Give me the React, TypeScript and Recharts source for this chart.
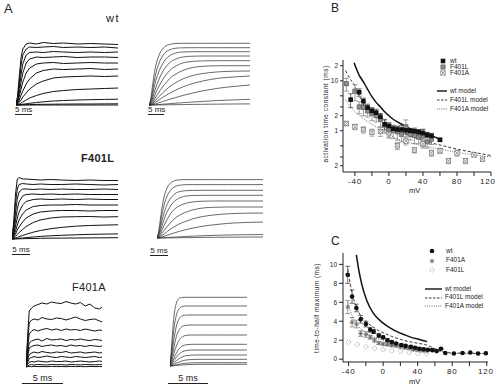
import React from "react";
import {
  ComposedChart,
  LineChart,
  Line,
  Scatter,
  ErrorBar,
  XAxis,
  YAxis,
} from "recharts";

const FONT = "'Liberation Sans', Arial, Helvetica, sans-serif";

// ---- panel A: time bases (ms) ----
const tRec = [0, 0.5, 1, 1.5, 2, 3, 4, 6, 8, 11, 14, 18, 22, 26, 30];
const tModel = [0, 0.5, 1, 1.5, 2, 3, 4, 5, 6, 8, 10, 13, 16, 20, 25, 30];
const tF401aRec = [0, 0.2, 0.4, 0.7, 1, 1.5, 2, 2.6, 3.2, 3.8, 4.4, 5, 5.6, 6.2, 6.8, 7.4, 8, 8.6, 9.2, 9.5];
const tF401aModel = [0, 0.2, 0.4, 0.6, 0.8, 1, 1.3, 1.6, 2, 2.5, 3, 4, 5, 6.5, 8, 9.6];

// currents, arbitrary units
const wtRec = [
  [0, 10, 30, 48, 56, 61, 62, 61, 62.5, 61.5, 62, 61, 61.5, 61, 60.5],
  [0, 8, 24, 40, 50, 56, 58, 57.5, 58, 58.5, 57.5, 58, 57.5, 58, 57],
  [0, 6, 18, 31, 41, 50, 52.5, 53, 52.5, 53.5, 53, 52.5, 53, 52.5, 53],
  [0, 4, 13, 23, 32, 42, 46, 48, 47.5, 48, 48.5, 47.5, 48, 48, 47.5],
  [0, 3, 9, 16, 23, 32, 37, 41, 42, 42.5, 41.5, 42, 42.5, 42, 42],
  [0, 2, 5, 10, 14, 21, 26, 32, 34.5, 36, 35.5, 36, 36.5, 35.5, 36],
  [0, 1, 3, 5, 8, 12, 16, 21, 24, 27, 28, 28.5, 29, 28.5, 29],
  [0, 0.5, 1, 2, 3, 5, 7, 9.5, 11.5, 13.5, 14.5, 15.5, 16, 16.5, 17],
  [0, 0, 0.3, 0.5, 0.8, 1.2, 1.7, 2.5, 3.2, 4, 4.5, 5, 5.3, 5.6, 5.8],
  [0, 0, 0, 0.1, 0.2, 0.3, 0.4, 0.6, 0.7, 0.8, 0.9, 1, 1, 1.1, 1.2],
  [0, 0, 0, 0, 0, 0, 0, 0, 0, 0, 0, 0, 0, 0, 0],
];

const wtModel = [
  [0, 6, 18, 30, 39, 50, 56, 59, 60.5, 61.5, 61.7, 61.7, 61.7, 61.7, 61.7, 61.7],
  [0, 4, 13, 23, 31, 42, 49, 53, 55, 56.8, 57.2, 57.3, 57.3, 57.3, 57.3, 57.3],
  [0, 3, 9, 17, 24, 34, 41, 46, 49, 52, 53, 53.3, 53.3, 53.3, 53.3, 53.3],
  [0, 2, 6, 12, 17, 26, 33, 38, 42, 46, 48, 48.8, 49, 49, 49, 49],
  [0, 1, 4, 8, 12, 19, 25, 30, 34, 39, 42, 43.6, 44.1, 44.3, 44.3, 44.3],
  [0, 0.5, 2.5, 5, 8, 13, 18, 22, 26, 31, 34.5, 37.5, 38.7, 39.2, 39.3, 39.3],
  [0, 0.3, 1.5, 3, 5, 8.5, 12, 15, 18, 22.5, 26, 29.5, 31.5, 33, 33.8, 34],
  [0, 0.2, 0.8, 1.8, 3, 5, 7.5, 9.5, 11.5, 15, 18, 21.5, 24, 26.5, 28, 29],
  [0, 0.1, 0.4, 0.8, 1.3, 2.3, 3.4, 4.5, 5.6, 7.5, 9.5, 12, 14.2, 16.5, 18.5, 20],
  [0, 0, 0.1, 0.2, 0.3, 0.5, 0.8, 1, 1.3, 1.8, 2.3, 3, 3.6, 4.4, 5.1, 5.7],
  [0, 0, 0, 0, 0.05, 0.1, 0.15, 0.2, 0.25, 0.35, 0.45, 0.6, 0.7, 0.85, 1, 1.1],
];

const f401lRec = [
  [0, 18, 45, 60, 61.5, 60, 60, 59.5, 59, 59.5, 59, 58.5, 59, 58.5, 58.5],
  [0, 14, 36, 50, 54.5, 55.5, 55, 54.5, 55, 54.5, 54.5, 55, 54.5, 54, 54.5],
  [0, 10, 27, 40, 47, 50, 50, 49.5, 50, 49.5, 50, 49.5, 49.5, 50, 49.5],
  [0, 7, 19, 30, 37, 43, 44.5, 45, 44.5, 45, 44.5, 45, 44.5, 44.5, 44.5],
  [0, 5, 13, 21, 27, 34, 37.5, 39.5, 40, 39.5, 40, 39.5, 40, 39.5, 39.5],
  [0, 3, 8, 14, 19, 25, 29, 32.5, 33.5, 34, 34, 34.5, 34, 34, 34],
  [0, 2, 5, 9, 12, 17, 21, 25, 27, 28, 28.5, 28.5, 28, 28.5, 28.5],
  [0, 1, 2.5, 4.5, 6.5, 9.5, 12.5, 16.5, 19, 21, 22, 22.3, 22.5, 22, 22.3],
  [0, 0.4, 1, 1.6, 2.3, 3.5, 4.7, 6.8, 8.5, 10.3, 11.6, 12.8, 13.5, 13.9, 14.2],
  [0, 0.1, 0.3, 0.5, 0.7, 1, 1.4, 2, 2.6, 3.2, 3.7, 4.2, 4.6, 4.9, 5.1],
  [0, 0, 0.1, 0.1, 0.2, 0.3, 0.4, 0.5, 0.7, 0.8, 0.9, 1, 1.1, 1.2, 1.3],
];

const f401lModel = [
  [0, 7, 20, 32, 41, 51, 55.5, 57.3, 58, 58.4, 58.4, 58.4, 58.4, 58.4, 58.4, 58.4],
  [0, 5, 15, 25, 33, 43, 48.5, 51.3, 52.5, 53.3, 53.4, 53.4, 53.4, 53.4, 53.4, 53.4],
  [0, 3.5, 10.5, 18.5, 25, 34.5, 40.5, 44, 46, 47.3, 47.6, 47.7, 47.7, 47.7, 47.7, 47.7],
  [0, 2.5, 7, 13, 18.5, 27, 33, 37, 39.5, 41.8, 42.5, 42.7, 42.7, 42.7, 42.7, 42.7],
  [0, 1.5, 4.5, 8.5, 12.5, 19.5, 25, 29, 31.5, 34.5, 36, 36.8, 37, 37, 37, 37],
  [0, 0.8, 2.5, 5, 7.5, 12, 16, 19.5, 22, 25.5, 28, 30, 30.7, 31, 31, 31],
  [0, 0.4, 1.3, 2.6, 4, 6.8, 9.3, 11.5, 13.5, 16.5, 19, 21.5, 23, 24.2, 24.8, 25],
  [0, 0.2, 0.6, 1.1, 1.7, 2.9, 4.1, 5.2, 6.3, 8.2, 9.8, 11.8, 13.2, 14.6, 15.5, 16],
  [0, 0, 0.1, 0.2, 0.3, 0.5, 0.7, 0.9, 1.1, 1.5, 1.8, 2.3, 2.6, 3, 3.3, 3.4],
  [0, 0, 0, 0, 0.05, 0.1, 0.15, 0.2, 0.25, 0.35, 0.45, 0.6, 0.7, 0.8, 0.9, 1],
];

const f401aRec = [
  [0, 30, 56, 59, 61, 62.5, 64, 63, 65, 64, 63.5, 65.5, 64, 63, 64.5, 61, 63, 59, 58, 60],
  [0, 24, 44, 47, 48, 47, 49.5, 48, 47.5, 49, 48.5, 47, 48.5, 50, 48, 46.5, 47.5, 48, 46, 45],
  [0, 18, 33, 36, 37.5, 36, 37.5, 38.5, 37, 38, 36.5, 38, 37, 37.5, 36.5, 38, 37, 36, 37, 36.5],
  [0, 13, 24, 26, 27, 28, 26, 28.5, 27, 27.5, 28, 26.5, 27.5, 27, 28, 27, 26.5, 27.5, 27, 26.5],
  [0, 10, 19, 20.5, 21.5, 22, 20.5, 21.5, 22, 21, 21.5, 20.5, 22, 21, 21.5, 20.5, 21.5, 21, 20.5, 21],
  [0, 7, 12.5, 14, 15, 14, 15.5, 14.5, 14, 15, 14.5, 15.5, 14, 14.5, 15, 14, 14.5, 15, 14, 14.5],
  [0, 4.5, 8.5, 9.5, 10.5, 9.5, 10, 11, 10, 9.5, 10.5, 10, 9.5, 10.5, 10, 9.5, 10, 10.5, 9.5, 10],
  [0, 2.5, 4.8, 5.5, 5, 6, 5.5, 5, 6, 5.5, 5.5, 6, 5, 5.5, 6, 5.5, 5, 5.5, 6, 5.5],
  [0, 1, 2, 2.5, 2, 2.5, 2.3, 2, 2.6, 2.2, 2.4, 2, 2.5, 2.3, 2.1, 2.5, 2.3, 2.2, 2.4, 2.3],
  [0, 0.4, 0.5, 0.3, 0.6, 0.4, 0.5, 0.3, 0.6, 0.4, 0.5, 0.3, 0.6, 0.4, 0.5, 0.3, 0.6, 0.4, 0.5, 0.4],
];

const f401aModel = [
  [0, 20, 42, 56, 63, 66.5, 68.2, 68.6, 68.7, 68.7, 68.7, 68.7, 68.7, 68.7, 68.7, 68.7],
  [0, 14, 31, 43, 51, 55.5, 58.5, 59.6, 60, 60, 60, 60, 60, 60, 60, 60],
  [0, 10, 22, 32, 40, 45, 48.8, 50.3, 50.9, 51, 51, 51, 51, 51, 51, 51],
  [0, 7, 15, 23, 29.5, 34, 38, 39.8, 40.7, 41, 41, 41, 41, 41, 41, 41],
  [0, 4.5, 10, 15.5, 20, 24, 27.5, 29.5, 30.6, 31, 31, 31, 31, 31, 31, 31],
  [0, 2.8, 6.2, 9.8, 13, 15.8, 18.5, 20.2, 21.2, 21.6, 21.7, 21.7, 21.7, 21.7, 21.7, 21.7],
  [0, 1.8, 4.2, 6.6, 8.8, 10.8, 13, 14.5, 15.4, 15.9, 16, 16, 16, 16, 16, 16],
  [0, 1, 2.4, 3.9, 5.3, 6.6, 8.2, 9.4, 10.3, 10.8, 11, 11, 11, 11, 11, 11],
  [0, 0.5, 1.2, 2, 2.8, 3.5, 4.5, 5.3, 6, 6.4, 6.6, 6.7, 6.7, 6.7, 6.7, 6.7],
  [0, 0.2, 0.5, 0.8, 1.2, 1.5, 2, 2.4, 2.8, 3.1, 3.2, 3.3, 3.3, 3.3, 3.3, 3.3],
  [0, 0.1, 0.2, 0.4, 0.5, 0.7, 0.9, 1.1, 1.3, 1.5, 1.6, 1.7, 1.7, 1.7, 1.7, 1.7],
];

// ---- panel B: activation time constant (ms) vs mV ----
const wtTauMv = [-45, -35, -30, -25, -20, -15, -10, -5, 0, 5, 10, 15, 20, 25, 30, 35, 40, 45, 50, 60];
const wtTau = [4.2, 5.9, 3.9, 2.9, 2.5, 2.3, 1.9, 1.35, 1.25, 1.1, 1.06, 1.06, 1.02, 1.0, 0.98, 0.95, 0.9, 0.83, 0.79, 0.66];
const wtTauErr = [1.3, 1.0, 0.6, 0.5, 0.4, 0.4, 0.3, 0.3, 0.2, 0.15, 0.15, 0.2, 0.15, 0.1, 0.15, 0.1, 0.15, 0.1, 0.1, 0.05];

const f401lTauMv = [-50, -40, -35, -30, -25, -20, -15, -10, -5, 0, 5, 10, 15, 20, 25, 30, 35, 40, 45, 50];
const f401lTau = [8.7, 6.2, 3.0, 2.9, 2.5, 2.2, 2.0, 1.7, 1.3, 1.05, 1.0, 0.95, 0.85, 1.2, 0.85, 0.8, 0.75, 0.78, 0.6, 0.68];
const f401lTauErr = [2.5, 2.2, 0.8, 0.9, 0.6, 0.6, 0.5, 0.5, 0.4, 0.3, 0.3, 0.3, 0.25, 0.45, 0.2, 0.25, 0.2, 0.3, 0.15, 0.15];

const f401aTauMv = [-50, -40, -30, -20, -10, 0, 10, 20, 30, 40, 50, 60, 70, 80, 90, 100, 110];
const f401aTau = [1.4, 1.2, 1.05, 0.93, 0.97, 0.91, 0.5, 0.62, 0.41, 0.55, 0.36, 0.4, 0.25, 0.36, 0.25, 0.33, 0.27];
const f401aTauErr = [0.15, 0.15, 0.15, 0.15, 0.2, 0.2, 0.08, 0.1, 0.05, 0.1, 0.05, 0.05, 0.03, 0.05, 0.03, 0.03, 0.02];

const wtTauModelMv = [-41, -35, -30, -26, -20, -15, -10, -5, 0, 5, 10, 15, 20, 25, 30, 40, 50, 60];
const wtTauModel = [23, 13, 9.5, 7.2, 4.8, 3.7, 3.0, 2.4, 2.0, 1.7, 1.5, 1.35, 1.22, 1.1, 1.03, 0.92, 0.8, 0.67];
const f401lTauModelMv = [-51, -45, -41, -35, -30, -25, -20, -10, 0, 10, 20, 30, 40, 50, 60, 80, 100, 120];
const f401lTauModel = [16, 10.5, 8.4, 5, 3.7, 2.9, 2.3, 1.6, 1.2, 1.0, 0.85, 0.73, 0.64, 0.57, 0.52, 0.43, 0.37, 0.32];
const f401aTauModelMv = [-51, -45, -40, -34, -30, -20, -10, 0, 10, 20, 30, 40, 60, 80, 100, 120];
const f401aTauModel = [4.2, 3.0, 2.4, 2.0, 1.75, 1.35, 1.05, 0.85, 0.68, 0.6, 0.55, 0.5, 0.43, 0.37, 0.33, 0.3];

const tauTicks = [0.2, 0.3, 0.4, 0.5, 0.6, 0.8, 1, 2, 3, 4, 5, 6, 8, 10, 20];
const tauTickText: Record<string, string> = {
  "0.2": "2", "0.4": "4", "0.6": "6", "1": "1", "2": "2", "4": "4", "6": "6", "10": "10", "20": "2",
};

// ---- panel C: time-to-half maximum (ms) vs mV ----
const wtHalfMv = [-41, -36, -31, -26, -20, -15, -11, -5, 0, 5, 10, 15, 21, 26, 32, 37, 42, 47, 52, 57, 62, 67, 72, 82, 92, 101, 110, 119];
const wtHalf = [8.9, 6.6, 5.4, 4.2, 3.7, 3.1, 2.9, 2.5, 2.3, 2.0, 1.8, 1.65, 1.5, 1.4, 1.3, 1.2, 1.1, 1.05, 1.0, 0.95, 0.85, 1.1, 0.65, 0.6, 0.65, 0.7, 0.6, 0.62];
const wtHalfErr = [0.9, 0.7, 0.4, 0.4, 0.3, 0.25, 0.2, 0.2, 0.15, 0.15, 0.1, 0.1, 0.1, 0.1, 0.1, 0.1, 0.1, 0.1, 0.1, 0.05, 0.05, 0.05, 0, 0, 0, 0, 0, 0];

const f401aHalfMv = [-41, -36, -31, -26, -20, -15, -10, -5, 0, 5, 10, 15, 20, 25, 30, 35, 40, 45, 50];
const f401aHalf = [5.5, 3.9, 3.7, 2.7, 2.6, 2.3, 2.0, 1.7, 1.6, 1.55, 1.45, 1.4, 1.3, 1.2, 1.15, 1.0, 0.95, 0.9, 0.85];
const f401aHalfErr = [0.7, 0.5, 0.4, 0.3, 0.3, 0.2, 0.2, 0.15, 0.15, 0.15, 0.1, 0.1, 0.1, 0.1, 0.1, 0.1, 0.1, 0.1, 0.1];

const f401lHalfMv = [-40, -30, -20, -10, 0, 10, 20, 30, 40, 50];
const f401lHalf = [1.8, 1.55, 1.3, 1.15, 1.0, 0.9, 0.8, 0.7, 0.6, 0.6];

const wtHalfModelMv = [-31, -28, -25, -19, -11, 0, 8, 16, 24, 31, 43, 51];
const wtHalfModel = [11, 9.3, 8.0, 6.2, 4.8, 3.8, 3.3, 2.9, 2.6, 2.35, 2.05, 1.85];
const f401lHalfModelMv = [-41, -36, -31, -26, -20, -15, -10, -5, 0, 10, 20, 30, 42, 50, 60, 70, 80, 100, 120];
const f401lHalfModel = [9.5, 7.0, 5.5, 4.6, 4.0, 3.6, 3.3, 3.0, 2.8, 2.4, 2.1, 1.85, 1.65, 1.5, 1.1, 0.75, 0.65, 0.62, 0.6];
const f401aHalfModelMv = [-41, -36, -31, -26, -20, -10, 0, 10, 20, 30, 40, 50, 60, 70, 80, 100, 120];
const f401aHalfModel = [6.0, 4.6, 3.8, 3.2, 2.8, 2.3, 2.0, 1.75, 1.55, 1.4, 1.25, 1.1, 0.95, 0.75, 0.65, 0.6, 0.58];

const mvTicks = [-40, -20, 0, 20, 40, 60, 80, 100, 120];
const halfTicks = [0, 2, 4, 6, 8, 10];

const pts = (xs: number[], ys: number[], es?: number[]) =>
  xs.map((x, i) => ({ x, y: ys[i], e: es ? es[i] : 0 }));

// ---- marker shapes ----
const BlackSquare = (p: any) => (
  <rect x={p.cx - 2.3} y={p.cy - 2.3} width={4.6} height={4.6} fill="#111" />
);
const GraySquare = (p: any) => (
  <rect x={p.cx - 2.1} y={p.cy - 2.1} width={4.2} height={4.2} fill="#8a8a8a" stroke="#555" strokeWidth={0.6} />
);
const CrossSquare = (p: any) => (
  <g stroke="#777" strokeWidth={0.7} fill="#fff">
    <rect x={p.cx - 2.2} y={p.cy - 2.2} width={4.4} height={4.4} />
    <line x1={p.cx - 2.2} y1={p.cy - 2.2} x2={p.cx + 2.2} y2={p.cy + 2.2} />
    <line x1={p.cx + 2.2} y1={p.cy - 2.2} x2={p.cx - 2.2} y2={p.cy + 2.2} />
  </g>
);
const BlackDot = (p: any) => <circle cx={p.cx} cy={p.cy} r={2.3} fill="#111" />;
const Star = (p: any) => (
  <g stroke="#666" strokeWidth={0.8}>
    <line x1={p.cx - 2.3} y1={p.cy} x2={p.cx + 2.3} y2={p.cy} />
    <line x1={p.cx} y1={p.cy - 2.3} x2={p.cx} y2={p.cy + 2.3} />
    <line x1={p.cx - 1.7} y1={p.cy - 1.7} x2={p.cx + 1.7} y2={p.cy + 1.7} />
    <line x1={p.cx + 1.7} y1={p.cy - 1.7} x2={p.cx - 1.7} y2={p.cy + 1.7} />
  </g>
);
const OpenDot = (p: any) => (
  <circle cx={p.cx} cy={p.cy} r={2.1} fill="#fff" stroke="#888" strokeWidth={0.7} strokeDasharray="1 0.8" />
);

type TraceProps = {
  left: number;
  baseline: number;
  width: number;
  tMax: number;
  times: number[];
  traces: number[][];
  noisy?: boolean;
};

function Traces({ left, baseline, width, tMax, times, traces, noisy }: TraceProps) {
  const h = 76;
  const rows = times.map((t, i) => {
    const r: Record<string, number> = { t };
    traces.forEach((tr, k) => (r["s" + k] = tr[i]));
    return r;
  });
  return (
    <div style={{ position: "absolute", left, top: baseline - (h - 3) }}>
      <LineChart width={width} height={h} data={rows} margin={{ top: 0, right: 0, bottom: 0, left: 0 }}>
        <XAxis dataKey="t" type="number" domain={[0, tMax]} hide />
        <YAxis type="number" domain={[-3, h - 3]} hide />
        {traces.map((_, k) => (
          <Line
            key={k}
            dataKey={"s" + k}
            type={noisy ? "linear" : "monotone"}
            stroke={noisy ? "#111" : "#2a2a2a"}
            strokeWidth={noisy ? 1 : 0.7}
            dot={false}
            isAnimationActive={false}
          />
        ))}
      </LineChart>
    </div>
  );
}

function ScaleBar({ x1, x2, y, size, thick }: { x1: number; x2: number; y: number; size: number; thick?: number }) {
  return (
    <div
      style={{
        position: "absolute",
        left: x1,
        top: y - size - 1,
        width: x2 - x1,
        textAlign: "center",
        fontSize: size,
        lineHeight: `${size + 1}px`,
        borderBottom: `${thick || 1}px solid #222`,
        color: "#222",
        whiteSpace: "nowrap",
      }}
    >
      5 ms
    </div>
  );
}

function Txt({ x, y, size, children, bold, spacing }: any) {
  return (
    <div
      style={{
        position: "absolute",
        left: x,
        top: y - size / 2 - 1,
        fontSize: size,
        lineHeight: `${size + 2}px`,
        fontWeight: bold ? 600 : 400,
        letterSpacing: spacing || 0,
        color: "#222",
        whiteSpace: "nowrap",
      }}
    >
      {children}
    </div>
  );
}

function LegendRow({ x, y, marker, label, dx = 7 }: { x: number; y: number; marker: React.ReactNode; label: string; dx?: number }) {
  return (
    <>
      <svg style={{ position: "absolute", left: x - 9, top: y - 4 }} width={18} height={8}>
        {marker}
      </svg>
      <Txt x={x + dx} y={y} size={6.5}>
        {label}
      </Txt>
    </>
  );
}

const axisTick = { fontSize: 8, fill: "#222", fontFamily: FONT, letterSpacing: 0.8 };
const yTick = { fontSize: 6.5, fill: "#222", fontFamily: FONT };

export default function App() {
  return (
    <div
      style={{
        position: "relative",
        width: 500,
        height: 389,
        background: "#fff",
        overflow: "hidden",
        fontFamily: FONT,
      }}
    >
      <style>{"body{margin:0}"}</style>

      {/* panel letters and titles */}
      <Txt x={4} y={8} size={13}>A</Txt>
      <Txt x={331} y={8} size={12}>B</Txt>
      <Txt x={331} y={241} size={12}>C</Txt>
      <Txt x={106} y={18} size={11} spacing={1.5}>wt</Txt>
      <Txt x={81} y={158} size={11} bold spacing={0.3}>F401L</Txt>
      <Txt x={72} y={287} size={11} spacing={0.3}>F401A</Txt>

      {/* panel A traces */}
      <Traces left={15.7} baseline={105} width={102} tMax={30} times={tRec} traces={wtRec} noisy />
      <Traces left={149} baseline={105} width={101} tMax={30} times={tModel} traces={wtModel} />
      <Traces left={11.7} baseline={239} width={106} tMax={30} times={tRec} traces={f401lRec} noisy />
      <Traces left={156.7} baseline={237.7} width={106} tMax={30} times={tModel} traces={f401lModel} />
      <Traces left={26} baseline={367.3} width={76} tMax={9.5} times={tF401aRec} traces={f401aRec} noisy />
      <Traces left={170} baseline={366} width={77} tMax={9.6} times={tF401aModel} traces={f401aModel} />

      <ScaleBar x1={15} x2={32} y={114} size={8} />
      <ScaleBar x1={148} x2={164} y={114} size={8} />
      <ScaleBar x1={12} x2={30} y={254} size={8} />
      <ScaleBar x1={150} x2={168} y={254.5} size={8} thick={1.5} />
      <ScaleBar x1={22} x2={63} y={383} size={9} />
      <ScaleBar x1={168} x2={208} y={383} size={9} />

      {/* panel B */}
      <div style={{ position: "absolute", left: 325, top: 55 }}>
        <ComposedChart width={170} height={137} margin={{ top: 5, right: 4, bottom: 0, left: 0 }}>
          <XAxis
            type="number"
            dataKey="x"
            domain={[-54, 120]}
            ticks={mvTicks}
            tickFormatter={(v: number) => (v % 40 === 0 ? String(v) : "")}
            allowDataOverflow
            height={20}
            tickSize={4}
            tick={axisTick}
            stroke="#222"
          />
          <YAxis
            type="number"
            dataKey="y"
            scale="log"
            domain={[0.15, 26]}
            ticks={tauTicks}
            tickFormatter={(v: number) => tauTickText[String(v)] || ""}
            allowDataOverflow
            width={18}
            tickSize={3}
            tick={yTick}
            stroke="#222"
          />
          <Line data={pts(wtTauModelMv, wtTauModel)} dataKey="y" type="monotone" stroke="#111" strokeWidth={1.5} dot={false} isAnimationActive={false} />
          <Line data={pts(f401lTauModelMv, f401lTauModel)} dataKey="y" type="monotone" stroke="#222" strokeWidth={0.9} strokeDasharray="3 2" dot={false} isAnimationActive={false} />
          <Line data={pts(f401aTauModelMv, f401aTauModel)} dataKey="y" type="monotone" stroke="#555" strokeWidth={0.9} strokeDasharray="1 1.5" dot={false} isAnimationActive={false} />
          <Scatter data={pts(f401aTauMv, f401aTau, f401aTauErr)} dataKey="y" shape={CrossSquare} isAnimationActive={false}>
            <ErrorBar dataKey="e" direction="y" width={2.5} stroke="#888" strokeWidth={0.7} />
          </Scatter>
          <Scatter data={pts(f401lTauMv, f401lTau, f401lTauErr)} dataKey="y" shape={GraySquare} isAnimationActive={false}>
            <ErrorBar dataKey="e" direction="y" width={2.5} stroke="#777" strokeWidth={0.7} />
          </Scatter>
          <Scatter data={pts(wtTauMv, wtTau, wtTauErr)} dataKey="y" shape={BlackSquare} isAnimationActive={false}>
            <ErrorBar dataKey="e" direction="y" width={2.5} stroke="#333" strokeWidth={0.7} />
          </Scatter>
        </ComposedChart>
      </div>
      <div
        style={{
          position: "absolute",
          left: 325,
          top: 114,
          transform: "translate(-50%, -50%) rotate(-90deg)",
          fontSize: 6.5,
          letterSpacing: 0.5,
          whiteSpace: "nowrap",
          color: "#222",
        }}
      >
        activation time constant (ms)
      </div>
      <Txt x={409} y={191} size={7.5}>mV</Txt>

      <LegendRow x={443} y={61} label="wt" marker={<rect x={6.7} y={1.7} width={4.6} height={4.6} fill="#111" />} />
      <LegendRow x={443} y={67} label="F401L" marker={<rect x={6.9} y={1.9} width={4.2} height={4.2} fill="#8a8a8a" stroke="#555" strokeWidth={0.6} />} />
      <LegendRow
        x={443}
        y={73}
        label="F401A"
        marker={
          <g stroke="#777" strokeWidth={0.7} fill="#fff">
            <rect x={6.8} y={1.8} width={4.4} height={4.4} />
            <line x1={6.8} y1={1.8} x2={11.2} y2={6.2} />
            <line x1={11.2} y1={1.8} x2={6.8} y2={6.2} />
          </g>
        }
      />
      <LegendRow x={443} y={91} label="wt model" marker={<line x1={3} y1={4} x2={13} y2={4} stroke="#111" strokeWidth={1.4} />} />
      <LegendRow x={443} y={100} label="F401L model" marker={<line x1={3} y1={4} x2={13} y2={4} stroke="#222" strokeWidth={0.9} strokeDasharray="2.5 1.5" />} />
      <LegendRow x={443} y={109} label="F401A model" marker={<line x1={3} y1={4} x2={13} y2={4} stroke="#555" strokeWidth={0.9} strokeDasharray="1 1.2" />} />

      {/* panel C */}
      <div style={{ position: "absolute", left: 325, top: 248 }}>
        <ComposedChart width={168} height={141} margin={{ top: 5, right: 5, bottom: 0, left: 0 }}>
          <XAxis
            type="number"
            dataKey="x"
            domain={[-46.5, 121.5]}
            ticks={mvTicks}
            tickFormatter={(v: number) => (v % 40 === 0 ? String(v) : "")}
            allowDataOverflow
            height={27}
            tickSize={4}
            tick={axisTick}
            stroke="#222"
          />
          <YAxis
            type="number"
            dataKey="y"
            domain={[-0.3, 11.2]}
            ticks={halfTicks}
            allowDataOverflow
            width={18}
            tickSize={4}
            tick={yTick}
            stroke="#222"
          />
          <Line data={pts(wtHalfModelMv, wtHalfModel)} dataKey="y" type="monotone" stroke="#111" strokeWidth={1.5} dot={false} isAnimationActive={false} />
          <Line data={pts(f401lHalfModelMv, f401lHalfModel)} dataKey="y" type="monotone" stroke="#222" strokeWidth={0.9} strokeDasharray="3 2" dot={false} isAnimationActive={false} />
          <Line data={pts(f401aHalfModelMv, f401aHalfModel)} dataKey="y" type="monotone" stroke="#555" strokeWidth={0.9} strokeDasharray="1 1.5" dot={false} isAnimationActive={false} />
          <Scatter data={pts(f401lHalfMv, f401lHalf)} dataKey="y" shape={OpenDot} isAnimationActive={false} />
          <Scatter data={pts(f401aHalfMv, f401aHalf, f401aHalfErr)} dataKey="y" shape={Star} isAnimationActive={false}>
            <ErrorBar dataKey="e" direction="y" width={2.5} stroke="#777" strokeWidth={0.7} />
          </Scatter>
          <Scatter data={pts(wtHalfMv, wtHalf, wtHalfErr)} dataKey="y" shape={BlackDot} isAnimationActive={false}>
            <ErrorBar dataKey="e" direction="y" width={2.5} stroke="#333" strokeWidth={0.7} />
          </Scatter>
        </ComposedChart>
      </div>
      <div
        style={{
          position: "absolute",
          left: 316,
          top: 308,
          transform: "translate(-50%, -50%) rotate(-90deg)",
          fontSize: 6.5,
          letterSpacing: 0.5,
          whiteSpace: "nowrap",
          color: "#222",
        }}
      >
        time-to-half maximum (ms)
      </div>
      <Txt x={409} y={382} size={7.5}>mV</Txt>

      <LegendRow x={432} y={251} label="wt" dx={14} marker={<circle cx={9} cy={4} r={2.3} fill="#111" />} />
      <LegendRow
        x={432}
        y={260.7}
        label="F401A"
        dx={14}
        marker={
          <g stroke="#666" strokeWidth={0.8}>
            <line x1={6.7} y1={4} x2={11.3} y2={4} />
            <line x1={9} y1={1.7} x2={9} y2={6.3} />
            <line x1={7.3} y1={2.3} x2={10.7} y2={5.7} />
            <line x1={10.7} y1={2.3} x2={7.3} y2={5.7} />
          </g>
        }
      />
      <LegendRow x={432} y={270} label="F401L" dx={14} marker={<circle cx={9} cy={4} r={2.1} fill="#fff" stroke="#888" strokeWidth={0.7} strokeDasharray="1 0.8" />} />
      <LegendRow x={434} y={289} label="wt model" dx={11} marker={<line x1={0} y1={4} x2={17} y2={4} stroke="#111" strokeWidth={1.4} />} />
      <LegendRow x={434} y={297.5} label="F401L model" dx={11} marker={<line x1={0} y1={4} x2={17} y2={4} stroke="#222" strokeWidth={0.9} strokeDasharray="2.5 1.5" />} />
      <LegendRow x={434} y={306} label="F401A model" dx={11} marker={<line x1={0} y1={4} x2={17} y2={4} stroke="#555" strokeWidth={0.9} strokeDasharray="1 1.2" />} />
    </div>
  );
}
